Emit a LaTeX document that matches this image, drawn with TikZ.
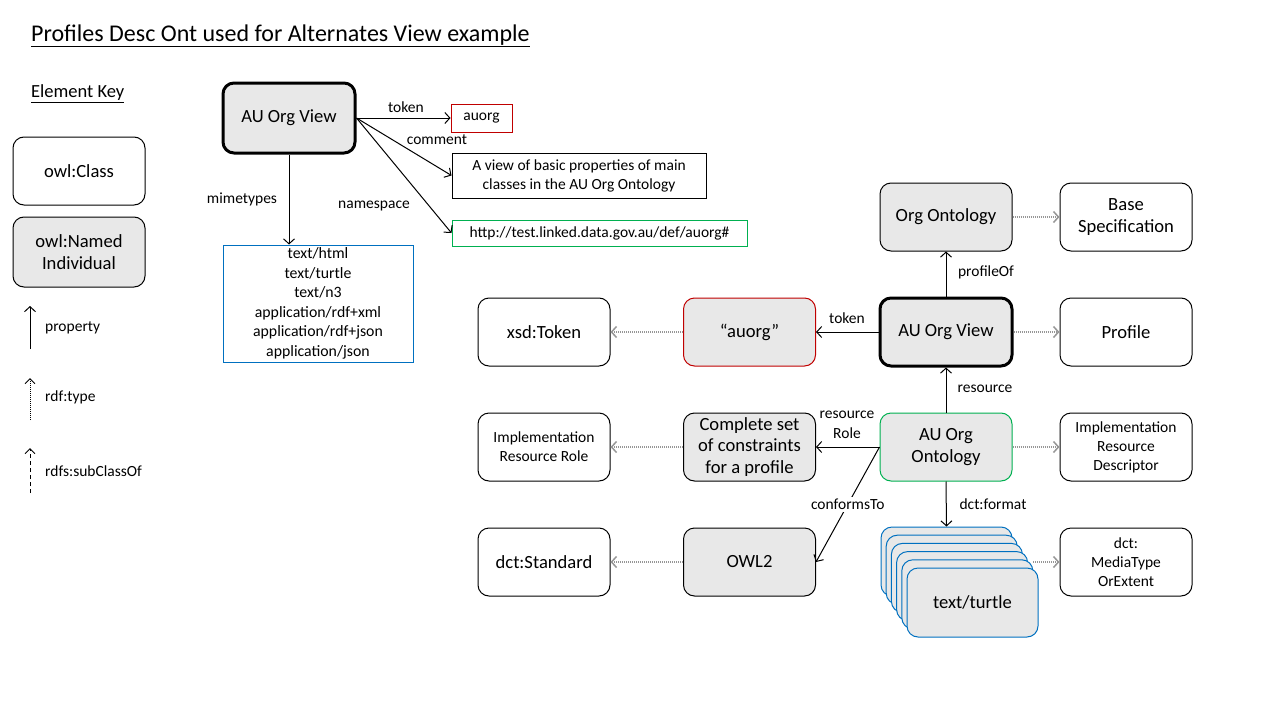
\documentclass[tikz,border=0pt]{standalone}
\usepackage{fontspec}
\setmainfont{Carlito}
\usetikzlibrary{arrows.meta,calc}
\definecolor{hatch}{RGB}{232,232,232}
\definecolor{redb}{RGB}{192,0,0}
\definecolor{greenb}{RGB}{0,176,80}
\definecolor{blueb}{RGB}{0,112,192}
\definecolor{dotg}{RGB}{150,150,150}
\newcommand\fbig{\fontsize{18.6}{22.5}\selectfont}
\newcommand\fsmall{\fontsize{15.5}{19}\selectfont}
\newcommand\flab{\fontsize{15.5}{19}\selectfont}
\newcommand\flist{\fontsize{15.8}{19.5}\selectfont}
\newcommand\ftitle{\fontsize{24}{28}\selectfont}
\newcommand\fkey{\fontsize{18.5}{22}\selectfont}
\begin{document}
\begin{tikzpicture}[x=1pt,y=-1pt,
  box/.style={draw, line width=1pt, rounded corners=11pt, minimum width=132pt, minimum height=68pt, inner sep=2pt, align=center, font=\fbig},
  smallbox/.style={box, font=\fsmall},
  ind/.style={box, fill=hatch},
  heavy/.style={line width=3pt},
  flat/.style={draw, line width=1pt, align=center, inner sep=3pt, font=\flab},
  stackbox/.style={draw=blueb, line width=1pt, fill=hatch, rounded corners=11pt, minimum width=131pt, minimum height=69pt, font=\fbig},
  prop/.style={-{Straight Barb[length=5pt,width=11pt]}, line width=1pt},
  typ/.style={-{Straight Barb[length=5pt,width=11pt]}, draw=dotg, line width=1.5pt, dash pattern=on 1pt off 1pt},
  keytyp/.style={-{Straight Barb[length=5pt,width=10pt]}, line width=1pt, dash pattern=on 1pt off 1pt},
  keysub/.style={-{Straight Barb[length=5pt,width=10pt]}, line width=1pt, dash pattern=on 4pt off 3pt},
  lab/.style={font=\flab, inner sep=1pt, align=center}
]
\useasboundingbox (0,0) rectangle (1280,720);

% title and key
\node[anchor=west, inner sep=0pt, font=\ftitle] (title) at (31,36) {\underline{Profiles Desc Ont used for Alternates View example}};
\node[anchor=west, inner sep=0pt, font=\fkey] (keyt) at (31,94) {\underline{Element Key}};
\node[box] (kclass) at (79,171) {owl:Class};
\node[ind, minimum height=70pt] (kind) at (79,252) {owl:Named\\Individual};
\coordinate (k1a) at (30,349); \coordinate (k1b) at (30,306);
\coordinate (k2a) at (30,420); \coordinate (k2b) at (30,378);
\coordinate (k3a) at (30,493); \coordinate (k3b) at (30,448);
\draw[prop] (k1a) -- (k1b);
\draw[keytyp] (k2a) -- (k2b);
\draw[keysub] (k3a) -- (k3b);
\node[lab, anchor=west] (kl1) at (44,328) {property};
\node[lab, anchor=west] (kl2) at (44,397) {rdf:type};
\node[lab, anchor=west] (kl3) at (44,471) {rdfs:subClassOf};

% top example
\node[ind, heavy, minimum width=132pt, minimum height=70pt] (auv) at (289,118) {AU Org View};
\node[flat, draw=redb, minimum width=61pt, minimum height=28pt] (auorg) at (481.5,118) {auorg};
\node[flat, minimum width=254pt, minimum height=45pt] (cmt) at (579,175.5) {A view of basic properties of main\\classes in the AU Org Ontology};
\node[flat, draw=greenb, minimum width=295pt, minimum height=26pt] (ns) at (599.5,233) {http://test.linked.data.gov.au/def/auorg\#};
\node[draw=blueb, line width=1pt, minimum width=190pt, minimum height=117pt, align=center, font=\flist, inner sep=2pt] (mime) at (318,303.5)
  {text/html\\text/turtle\\text/n3\\application/rdf+xml\\application/rdf+json\\application/json};
\draw[prop] (auv.east) -- (auorg.west);
\draw[prop] (auv.east) -- (cmt.west);
\draw[prop] (auv.east) -- (ns.west);
\draw[prop] (auv.south) -- (auv.south |- mime.north);
\node[lab] (l1) at (406,107) {token};
\node[lab] (l2) at (437,140) {comment};
\node[lab] (l3) at (374,206) {namespace};
\node[lab] (l4) at (242,199) {mimetypes};

% right diagram
\node[ind] (oo) at (946,217) {Org Ontology};
\node[box] (bs) at (1126,217) {Base\\Specification};
\node[ind, heavy] (mv) at (946,332) {AU Org View};
\node[box] (pr) at (1126,332) {Profile};
\node[ind, draw=redb] (tq) at (749.5,332) {“auorg”};
\node[box] (xsd) at (544,332) {xsd:Token};
\node[ind, draw=greenb] (aoo) at (946,447) {AU Org\\Ontology};
\node[smallbox] (ird) at (1126,447) {Implementation\\Resource\\Descriptor};
\node[ind, font=\fontsize{18.6}{21.5}\selectfont] (cs) at (749.5,447) {Complete set\\of constraints\\for a profile};
\node[smallbox] (irr) at (544,447) {Implementation\\Resource Role};
\node[ind] (owl) at (749.5,562) {OWL2};
\node[box] (dst) at (544,562) {dct:Standard};
\node[smallbox] (mt) at (1126,562) {dct:\\MediaType\\OrExtent};

\node[stackbox] (s0) at (946.5,561.5) {};
\node[stackbox] (s1) at (951.7,569.7) {};
\node[stackbox] (s2) at (956.9,577.9) {};
\node[stackbox] (s3) at (962.1,586.1) {};
\node[stackbox] (s4) at (967.3,594.3) {};
\node[stackbox] (s5) at (972.5,602.5) {text/turtle};

\draw[typ] (oo) -- (bs);
\draw[typ] (mv) -- (pr);
\draw[typ] (tq) -- (xsd);
\draw[typ] (aoo) -- (ird);
\draw[typ] (cs) -- (irr);
\draw[typ] (owl) -- (dst);
\draw[typ] (s4.east |- mt.west) -- (mt.west);

\draw[prop] (mv.north) -- (oo.south);
\draw[prop] (mv.west) -- (tq.east);
\draw[prop] (aoo.north) -- (mv.south);
\draw[prop] (aoo.west) -- (cs.east);
\draw[prop] (aoo.west) -- (owl.east) node[lab, midway, fill=white, inner sep=2pt] {conformsTo};
\draw[prop] (aoo.south) -- (s0.north);

\node[lab] (m1) at (986,272) {profileOf};
\node[lab] (m2) at (847,318) {token};
\node[lab] (m3) at (985,389) {resource};
\node[lab, font=\fontsize{15.5}{20}\selectfont] (m4) at (847,425) {resource\\Role};
\node[lab] (m5) at (993,504) {dct:format};
\end{tikzpicture}
\end{document}
